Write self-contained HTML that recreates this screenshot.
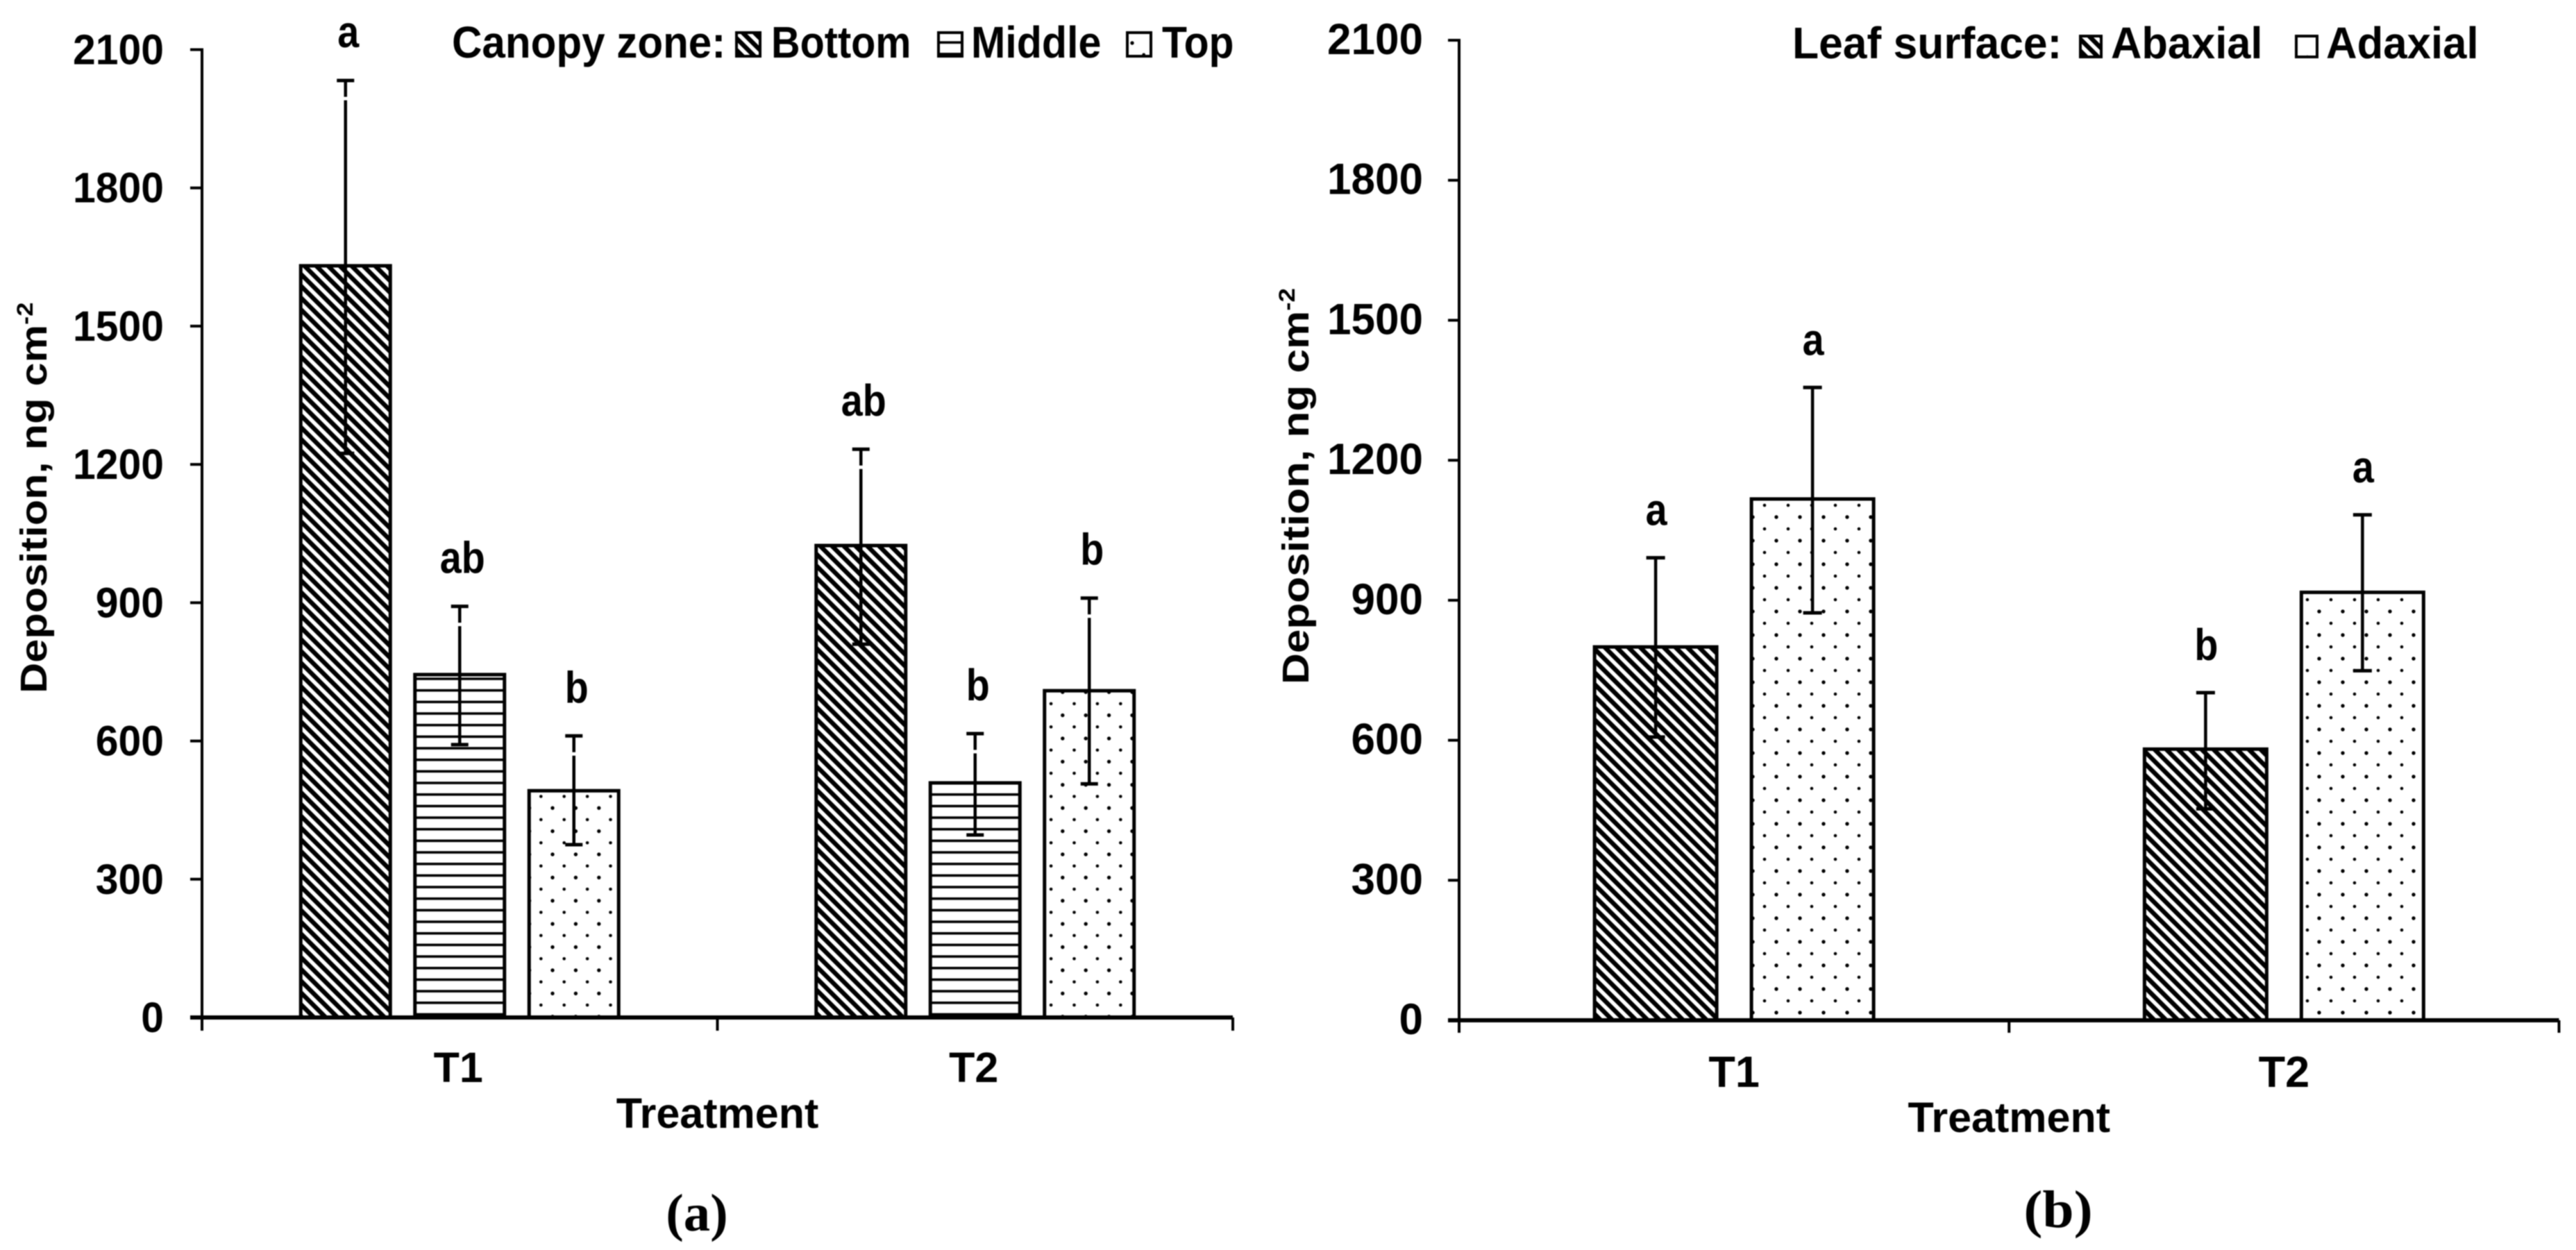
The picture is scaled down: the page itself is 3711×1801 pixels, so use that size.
<!DOCTYPE html>
<html lang="en">
<head>
<meta charset="utf-8">
<title>Deposition by canopy zone and leaf surface</title>
<style>
html,body{margin:0;padding:0;background:#fff;width:3711px;height:1801px;overflow:hidden}
svg{display:block;filter:blur(0.7px)}
text{font-family:"Liberation Sans",Arial,sans-serif;font-weight:700;fill:#000}
.serif{font-family:"Liberation Serif","Times New Roman",serif}
</style>
</head>
<body>
<svg id="figure" xmlns="http://www.w3.org/2000/svg" width="3711" height="1801" viewBox="0 0 3711 1801">
  <defs>
    <pattern id="hatch-diagonal" patternUnits="userSpaceOnUse" width="12" height="12" patternTransform="rotate(-45)">
      <rect width="12" height="12" fill="#fff"></rect>
      <rect width="6.5" height="12" fill="#000"></rect>
    </pattern>
    <pattern id="hatch-horizontal" patternUnits="userSpaceOnUse" x="0" y="1443" width="17" height="16.67">
      <rect width="17" height="16.67" fill="#fff"></rect>
      <rect width="17" height="3.6" fill="#000"></rect>
    </pattern>
    <pattern id="hatch-dots-a" patternUnits="userSpaceOnUse" x="796" y="1231" width="33.4" height="33.4">
      <rect width="33.4" height="33.4" fill="#fff"></rect>
      <circle cx="0" cy="0" r="2.7" fill="#000"></circle>
      <circle cx="33.4" cy="0" r="2.7" fill="#000"></circle>
      <circle cx="0" cy="33.4" r="2.7" fill="#000"></circle>
      <circle cx="33.4" cy="33.4" r="2.7" fill="#000"></circle>
      <circle cx="16.7" cy="16.7" r="2.3" fill="#000"></circle>
    </pattern>
    <pattern id="hatch-dots-b" patternUnits="userSpaceOnUse" x="2559" y="1119" width="34" height="34">
      <rect width="34" height="34" fill="#fff"></rect>
      <circle cx="0" cy="0" r="2.7" fill="#000"></circle>
      <circle cx="34" cy="0" r="2.7" fill="#000"></circle>
      <circle cx="0" cy="34" r="2.7" fill="#000"></circle>
      <circle cx="34" cy="34" r="2.7" fill="#000"></circle>
      <circle cx="17" cy="17" r="2.3" fill="#000"></circle>
    </pattern>
  </defs>
</svg>
<script>
// ---- chart data ----
const yTickValues = [0, 300, 600, 900, 1200, 1500, 1800, 2100];
const treatments = ['T1', 'T2'];

// Panel (a): canopy zone
const zoneNames = ['Bottom', 'Middle', 'Top'];
const zoneBottomMean = [1631, 1024];
const zoneMiddleMean = [744, 509];
const zoneTopMean = [492, 709];
const zoneBottomUpper = [2033, 1233];
const zoneMiddleUpper = [892, 616];
const zoneTopUpper = [611, 910];
const zoneBottomLower = [1224, 810];
const zoneMiddleLower = [592, 396];
const zoneTopLower = [375, 507];
const zoneBottomLetters = ['a', 'ab'];
const zoneMiddleLetters = ['ab', 'b'];
const zoneTopLetters = ['b', 'b'];

// Panel (b): leaf surface
const surfaceNames = ['Abaxial', 'Adaxial'];
const abaxialMean = [800, 581];
const adaxialMean = [1117, 917];
const abaxialUpper = [991, 702];
const adaxialUpper = [1356, 1083];
const abaxialLower = [607, 453];
const adaxialLower = [873, 749];
const abaxialLetters = ['a', 'b'];
const adaxialLetters = ['a', 'a'];

// ---- helpers ----
const svgNS = 'http://www.w3.org/2000/svg';
const root = document.getElementById('figure');

function make(tag, attrs, parent) {
  const el = document.createElementNS(svgNS, tag);
  for (const k in attrs) el.setAttribute(k, attrs[k]);
  parent.appendChild(el);
  return el;
}
function tagged(el, name) {
  
  
  return el;
}
function line(parent, x1, y1, x2, y2, w, name) {
  return tagged(make('line', {x1: x1, y1: y1, x2: x2, y2: y2, stroke: '#000', 'stroke-width': w}, parent), name);
}
function label(parent, str, x, y, size, anchor, sx, name) {
  const t = make('text', {transform: 'translate(' + x + ',' + y + ') scale(' + sx + ',1)', 'font-size': size, 'text-anchor': anchor}, parent);
  t.textContent = str;
  return tagged(t, name);
}

function drawPanel(cfg) {
  const g = tagged(make('g', {}, root), cfg.key + '-chart');
  const yOf = function (v) { return cfg.yBase - (v / 2100) * (cfg.yBase - cfg.yTop); };
  const band = (cfg.x1 - cfg.x0) / treatments.length;
  const xOf = function (cat, s) {
    return cfg.x0 + (cat + 0.5) * band + (s - (cfg.series.length - 1) / 2) * cfg.pitch;
  };

  // bars
  cfg.series.forEach(function (ser, s) {
    treatments.forEach(function (cat, c) {
      const cx = xOf(c, s);
      const top = yOf(ser.mean[c]);
      tagged(make('rect', {
        x: cx - cfg.barW / 2, y: top, width: cfg.barW, height: cfg.yBase - top,
        fill: 'url(#' + ser.fill + ')', stroke: '#000', 'stroke-width': cfg.barStroke
      }, g), 'bar-' + cat.toLowerCase() + '-' + ser.name.toLowerCase());
    });
  });

  // error bars and significance letters
  cfg.series.forEach(function (ser, s) {
    treatments.forEach(function (cat, c) {
      const id = cat.toLowerCase() + '-' + ser.name.toLowerCase();
      const cx = xOf(c, s);
      const hi = yOf(ser.upper[c]);
      const lo = yOf(ser.lower[c]);
      line(g, cx, hi, cx, lo, cfg.stem, 'error-bar-' + id);
      line(g, cx - cfg.capW / 2, hi, cx + cfg.capW / 2, hi, cfg.cap, 'error-cap-upper-' + id);
      line(g, cx - cfg.capW / 2, lo, cx + cfg.capW / 2, lo, cfg.cap, 'error-cap-lower-' + id);
      if (cfg.stemGap) {
        line(g, cx - 4, hi + 26, cx + 4, hi + 26, 5, 'error-bar-gap-' + id).setAttribute('stroke', '#fff');
      }
      label(g, ser.letters[c], cx + cfg.letterShift, hi - cfg.letterGap, cfg.letterSize, 'middle', cfg.letterSx, 'significance-letter-' + id);
    });
  });

  // y axis
  line(g, cfg.x0, cfg.yTop - 2, cfg.x0, cfg.yBase, cfg.axisW, 'y-axis-line');
  yTickValues.forEach(function (v) {
    const y = yOf(v);
    line(g, cfg.x0 - cfg.tick, y, cfg.x0, y, cfg.tickW, 'y-tick-' + v);
    label(g, String(v), cfg.tickRight, y + cfg.tickDrop, cfg.tickSize, 'end', cfg.tickSx, 'y-tick-label-' + v);
  });

  // x axis
  line(g, cfg.x0 - cfg.tick, cfg.yBase, cfg.x1, cfg.yBase, cfg.baseW, 'x-axis-line');
  for (let i = 0; i <= treatments.length; i++) {
    const x = cfg.x0 + i * band;
    line(g, x, cfg.yBase, x, cfg.yBase + cfg.tick + 2, cfg.tickW, 'x-tick-' + i);
  }
  treatments.forEach(function (cat, c) {
    label(g, cat, cfg.x0 + (c + 0.5) * band + cfg.catShift, cfg.catBase, cfg.tickSize, 'middle', 1, 'x-category-label-' + cat.toLowerCase());
  });
  label(g, 'Treatment', (cfg.x0 + cfg.x1) / 2, cfg.xTitleBase, 61, 'middle', 1, 'x-axis-title');

  // y axis title
  const yt = make('text', {
    transform: 'translate(' + cfg.yTitleX + ',' + cfg.yTitleY + ') rotate(-90) scale(' + cfg.yTitleSx + ',1)',
    'font-size': 54
  }, g);
  tagged(yt, 'y-axis-title');
  const main = make('tspan', {}, yt);
  main.textContent = 'Deposition, ng cm';
  const sup = make('tspan', {dy: -20, 'font-size': 32}, yt);
  sup.textContent = '-2';

  // legend
  const lg = tagged(make('g', {}, g), cfg.key + '-legend');
  label(lg, cfg.legendTitle, cfg.legendTitleX, cfg.legendBase, 64, 'start', cfg.legendTitleSx, 'legend-title');
  cfg.series.forEach(function (ser, s) {
    const e = tagged(make('g', {}, lg), 'legend-entry-' + ser.name.toLowerCase());
    tagged(make('rect', {
      x: ser.swatchX + 2, y: cfg.legendBase - cfg.swatch + 2, width: cfg.swatch - 4, height: cfg.swatch - 4,
      fill: 'url(#' + ser.fill + ')', stroke: '#000', 'stroke-width': 4
    }, e), 'legend-swatch-' + ser.name.toLowerCase());
    label(e, ser.name, ser.textX, cfg.legendBase, 64, 'start', ser.textSx, 'legend-label-' + ser.name.toLowerCase());
  });

  // panel caption
  const cap = label(g, cfg.caption, cfg.captionX, cfg.captionBase, 76, 'middle', cfg.captionSx, 'panel-caption');
  cap.setAttribute('class', 'serif');
}

drawPanel({
  key: 'panel-a', x0: 291, x1: 1776, yTop: 71.5, yBase: 1466,
  barW: 129, barStroke: 5, pitch: 164.5, capW: 25, cap: 5, stem: 4.5, stemGap: true,
  letterGap: 48, letterShift: 4, letterSize: 64, letterSx: 0.87,
  axisW: 4, baseW: 6, tick: 17, tickW: 4,
  tickRight: 236, tickDrop: 21, tickSize: 61, tickSx: 0.965,
  catShift: -2, catBase: 1559, xTitleBase: 1625,
  yTitleX: 67, yTitleY: 999, yTitleSx: 1.135,
  legendTitle: 'Canopy zone:', legendTitleX: 651, legendTitleSx: 0.94, legendBase: 83, swatch: 38,
  caption: '(a)', captionX: 1004, captionBase: 1773, captionSx: 1.01,
  series: [
    {name: zoneNames[0], mean: zoneBottomMean, upper: zoneBottomUpper, lower: zoneBottomLower, letters: zoneBottomLetters, fill: 'hatch-diagonal', swatchX: 1059, textX: 1111, textSx: 0.9},
    {name: zoneNames[1], mean: zoneMiddleMean, upper: zoneMiddleUpper, lower: zoneMiddleLower, letters: zoneMiddleLetters, fill: 'hatch-horizontal', swatchX: 1350, textX: 1399, textSx: 0.925},
    {name: zoneNames[2], mean: zoneTopMean, upper: zoneTopUpper, lower: zoneTopLower, letters: zoneTopLetters, fill: 'hatch-dots-a', swatchX: 1622, textX: 1674, textSx: 0.92}
  ]
});

drawPanel({
  key: 'panel-b', x0: 2102, x1: 3686.5, yTop: 58, yBase: 1470,
  barW: 176, barStroke: 5, pitch: 226, capW: 27, cap: 5, stem: 4.5, stemGap: false,
  letterGap: 47, letterShift: 1, letterSize: 64, letterSx: 0.87,
  axisW: 4, baseW: 6, tick: 16, tickW: 4,
  tickRight: 2050, tickDrop: 20, tickSize: 63, tickSx: 0.985,
  catShift: 0, catBase: 1566, xTitleBase: 1631,
  yTitleX: 1885, yTitleY: 986, yTitleSx: 1.15,
  legendTitle: 'Leaf surface:', legendTitleX: 2582, legendTitleSx: 0.975, legendBase: 84, swatch: 34,
  caption: '(b)', captionX: 2965, captionBase: 1768, captionSx: 1.07,
  series: [
    {name: surfaceNames[0], mean: abaxialMean, upper: abaxialUpper, lower: abaxialLower, letters: abaxialLetters, fill: 'hatch-diagonal', swatchX: 2995, textX: 3041, textSx: 0.96},
    {name: surfaceNames[1], mean: adaxialMean, upper: adaxialUpper, lower: adaxialLower, letters: adaxialLetters, fill: 'hatch-dots-b', swatchX: 3306, textX: 3351, textSx: 0.965}
  ]
});
</script>
</body>
</html>
